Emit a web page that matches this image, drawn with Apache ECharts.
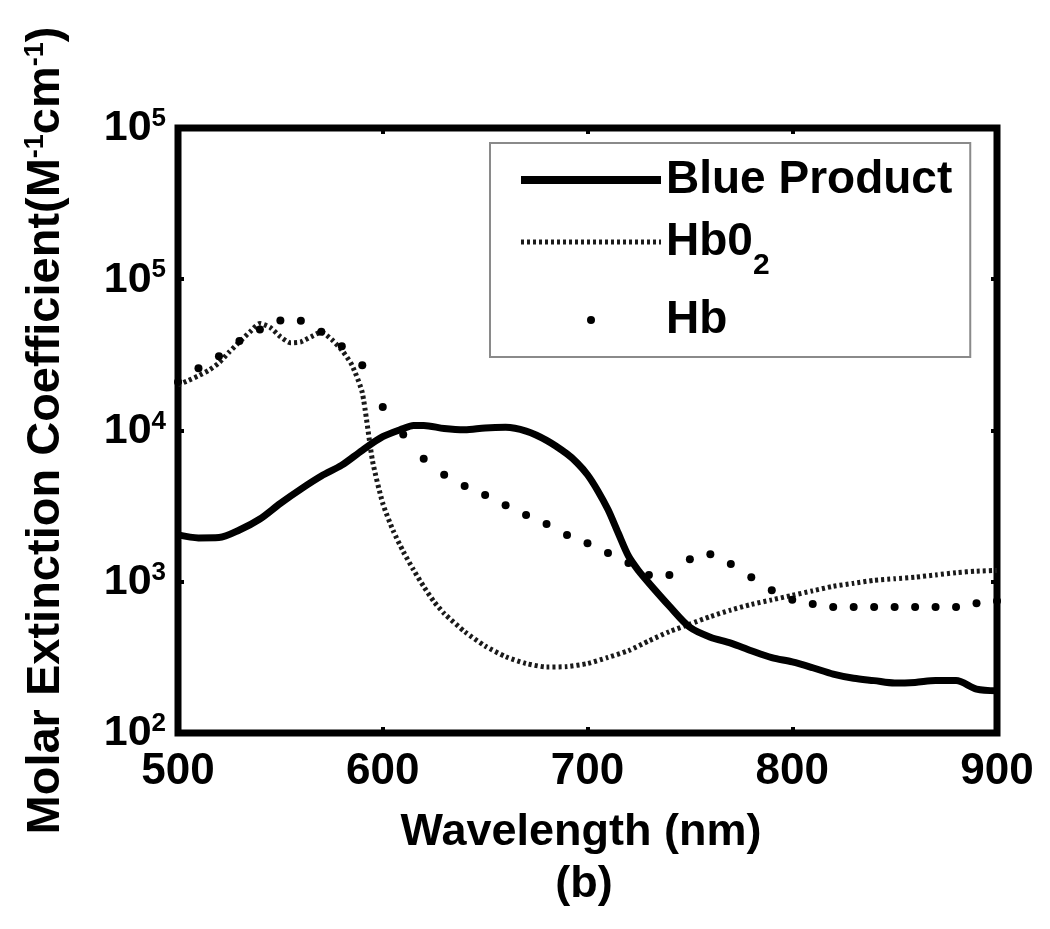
<!DOCTYPE html>
<html>
<head>
<meta charset="utf-8">
<script src="https://cdn.jsdelivr.net/npm/echarts@6/dist/echarts.min.js"></script>
<style>
  html, body { margin: 0; padding: 0; background: #fff; }
  #chart { width: 1050px; height: 929px; }
</style>
</head>
<body>
<div id="chart"></div>
<script>
// wavelength (nm) / molar extinction coefficient
const blueX = [500, 510, 520, 530, 540, 550, 560, 570, 580, 590, 600, 610, 615, 620, 630, 640, 650, 660, 670, 680, 690, 695, 700, 705, 710, 715, 720, 725, 730, 740, 750, 760, 770, 780, 790, 800, 810, 820, 830, 840, 850, 860, 870, 880, 890, 900]
const blueY = [2040, 1950, 1960, 2200, 2600, 3300, 4100, 5000, 5900, 7400, 9100, 10300, 10800, 10800, 10300, 10100, 10400, 10500, 9900, 8600, 7000, 6100, 5100, 4000, 3000, 2100, 1480, 1180, 980, 690, 500, 430, 393, 350, 315, 295, 270, 245, 230, 222, 214, 216, 222, 222, 195, 190]

const hbo2X = [500, 505, 510, 515, 520, 525, 530, 535, 540, 545, 550, 555, 560, 565, 570, 575, 580, 585, 590, 595, 600, 605, 610, 615, 620, 625, 630, 640, 650, 660, 670, 680, 690, 700, 710, 720, 730, 740, 750, 760, 770, 780, 790, 800, 810, 820, 830, 840, 850, 860, 870, 880, 890, 900]
const hbo2Y = [20000, 21400, 23000, 25000, 28000, 33000, 38500, 44700, 51000, 48000, 41700, 38000, 38500, 41700, 44700, 40000, 34000, 27000, 17800, 6300, 3300, 2190, 1585, 1200, 930, 740, 617, 468, 376, 320, 288, 273, 275, 288, 316, 350, 407, 468, 525, 589, 650, 708, 759, 813, 871, 933, 977, 1023, 1047, 1072, 1109, 1148, 1175, 1189]

const hbX = [500, 510, 520, 530, 540, 550, 560, 570, 580, 590, 600, 610, 620, 630, 640, 650, 660, 670, 680, 690, 700, 710, 720, 730, 740, 750, 760, 770, 780, 790, 800, 810, 820, 830, 840, 850, 860, 870, 880, 890, 900]
const hbY = [20900, 25800, 31000, 39000, 46600, 53400, 53200, 45000, 36000, 27000, 14300, 9400, 6500, 5100, 4300, 3750, 3200, 2760, 2410, 2040, 1800, 1550, 1330, 1110, 1110, 1410, 1520, 1310, 1070, 880, 760, 713, 681, 681, 681, 681, 681, 681, 681, 720, 746]

// y tick labels as printed: 10^2 ... (top one reads 10^5 in the figure)
const yTickExps = ['2', '3', '4', '5', '5']
const xTicks = [500, 600, 700, 800, 900]

const FONT = '"Liberation Sans", Arial, sans-serif'

const chart = echarts.init(document.getElementById('chart'))

function pairs(xs, ys) {
  return xs.map((x, i) => [x, ys[i]])
}

function yLabel(value) {
  const idx = Math.round(Math.log10(value)) - 2
  return '{b|10}{s|' + yTickExps[idx] + '}'
}

const tickStyle = { show: true, inside: true, length: 6, lineStyle: { color: '#000', width: 4 } }
const hidden = { color: 'rgba(0,0,0,0)', borderWidth: 0 }

chart.setOption({
  animation: false,
  backgroundColor: '#fff',
  textStyle: { fontFamily: FONT, color: '#000' },
  grid: {
    left: 178, top: 128, right: 53, bottom: 196,
    show: true, borderColor: '#000', borderWidth: 7, backgroundColor: '#fff'
  },
  legend: {
    orient: 'vertical',
    left: 490, top: 143,
    padding: [14, 18, 14, 27],
    itemGap: 16,
    itemWidth: 140, itemHeight: 8,
    itemTextGap: 18,
    borderColor: '#8a8a8a', borderWidth: 2,
    backgroundColor: '#fff',
    data: [
      { name: 'Blue Product', itemStyle: hidden, lineStyle: { width: 8, color: '#000', type: 'solid' } },
      { name: 'Hb02', itemStyle: hidden, lineStyle: { width: 5, color: '#1a1a1a', type: [3, 3] } },
      { name: 'Hb', icon: 'circle', itemStyle: { color: '#000', opacity: 1 } }
    ],
    formatter: (name) => name === 'Hb02' ? '{n|Hb0}{sub|2}' : '{n|' + name + '}',
    textStyle: {
      fontFamily: FONT,
      rich: {
        n: { fontSize: 46, fontWeight: 'bold', fontFamily: FONT, color: '#000', lineHeight: 46, verticalAlign: 'top' },
        sub: { fontSize: 30, fontWeight: 'bold', fontFamily: FONT, color: '#000', lineHeight: 28, padding: [32, 0, 0, 0], verticalAlign: 'top' }
      }
    }
  },
  xAxis: [
    {
      type: 'value', min: 500, max: 900, interval: 100,
      axisLine: { show: false },
      axisTick: tickStyle,
      splitLine: { show: false },
      axisLabel: {
        margin: 17, fontSize: 44, fontWeight: 'bold', fontFamily: FONT, color: '#000',
        formatter: (v) => xTicks.includes(v) ? String(v) : ''
      }
    },
    {
      type: 'value', min: 500, max: 900, interval: 100, position: 'top',
      axisLine: { show: false }, axisTick: tickStyle,
      splitLine: { show: false }, axisLabel: { show: false }
    }
  ],
  yAxis: [
    {
      type: 'log', logBase: 10, min: 100, max: 1000000,
      axisLine: { show: false },
      axisTick: tickStyle,
      splitLine: { show: false },
      minorTick: { show: false },
      name: '{t|Molar Extinction Coefficient(M}{s|-1}{t|cm}{s|-1}{t|)}',
      nameLocation: 'middle',
      nameGap: 108,
      nameTextStyle: {
        rich: {
          t: { fontSize: 47, fontWeight: 'bold', fontFamily: FONT, color: '#000', lineHeight: 48, verticalAlign: 'bottom' },
          s: { fontSize: 27, fontWeight: 'bold', fontFamily: FONT, color: '#000', lineHeight: 24, padding: [0, 0, 34, 0], verticalAlign: 'top' }
        }
      },
      axisLabel: {
        margin: 12,
        formatter: yLabel,
        rich: {
          b: { fontSize: 43, fontWeight: 'bold', fontFamily: FONT, color: '#000', lineHeight: 44, verticalAlign: 'bottom' },
          s: { fontSize: 26, fontWeight: 'bold', fontFamily: FONT, color: '#000', lineHeight: 22, padding: [0, 0, 34, 0], verticalAlign: 'top' }
        }
      }
    },
    {
      type: 'log', logBase: 10, min: 100, max: 1000000, position: 'right',
      axisLine: { show: false }, axisTick: tickStyle,
      splitLine: { show: false }, minorTick: { show: false }, axisLabel: { show: false }
    }
  ],
  graphic: [
    {
      type: 'text',
      x: 581, y: 833,
      style: {
        text: 'Wavelength (nm)', font: 'bold 45px ' + FONT,
        fill: '#000', textAlign: 'center', textVerticalAlign: 'middle'
      }
    },
    {
      type: 'text',
      x: 584, y: 885,
      style: {
        text: '(b)', font: 'bold 45px ' + FONT,
        fill: '#000', textAlign: 'center', textVerticalAlign: 'middle'
      }
    }
  ],
  series: [
    {
      name: 'Blue Product',
      type: 'line',
      data: pairs(blueX, blueY),
      showSymbol: false, symbol: 'none',
      smooth: 0.3,
      lineStyle: { color: '#000', width: 7 },
      itemStyle: { color: '#000' },
      z: 3
    },
    {
      name: 'Hb02',
      type: 'line',
      data: pairs(hbo2X, hbo2Y),
      showSymbol: false, symbol: 'none',
      smooth: 0.2,
      lineStyle: { color: '#1a1a1a', width: 5, type: [3, 3] },
      itemStyle: { color: '#1a1a1a' },
      z: 2
    },
    {
      name: 'Hb',
      type: 'scatter',
      data: pairs(hbX, hbY),
      symbol: 'circle', symbolSize: 8,
      itemStyle: { color: '#000', opacity: 1 },
      z: 4
    }
  ]
})
</script>
</body>
</html>
